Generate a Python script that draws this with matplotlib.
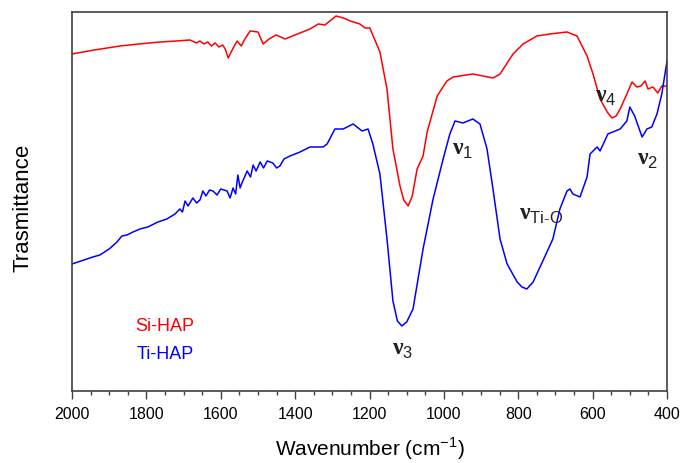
import numpy as np
import matplotlib
matplotlib.use("Agg")
import matplotlib.pyplot as plt
from matplotlib.ticker import MultipleLocator

plt.rcParams['font.family'] = ['Liberation Sans', 'DejaVu Sans']
plt.rcParams['mathtext.fontset'] = 'custom'
plt.rcParams['mathtext.rm'] = 'Liberation Serif'
plt.rcParams['mathtext.sf'] = 'Liberation Sans'
plt.rcParams['mathtext.bf'] = 'Liberation Serif:bold'

# Si-HAP spectrum (wavenumber, transmittance in arbitrary units)
si_wn = [2000, 1940, 1871, 1820, 1763, 1720, 1683, 1665, 1656, 1645, 1635, 1625,
         1615, 1605, 1595, 1588, 1580, 1568, 1556, 1545, 1535, 1521, 1500, 1486,
         1470, 1451, 1427, 1387, 1360, 1338, 1320, 1290, 1270, 1252, 1226, 1212,
         1199, 1172, 1153, 1137, 1118, 1108, 1096, 1085, 1072, 1056, 1045, 1018,
         992, 975, 922, 868, 849, 814, 787, 750, 715, 669, 642, 615, 599, 580,
         561, 548, 537, 526, 508, 494, 481, 470, 459, 451, 438, 425, 414, 400]
si_t = [337, 341, 345, 347, 349, 350, 351, 348, 350, 347, 349, 345,
        348, 344, 346, 342, 333, 342, 350, 345, 352, 360, 359, 347,
        352, 356, 352, 358, 362, 367, 366, 375, 373, 370, 367, 363,
        363, 339, 302, 242, 205, 191, 185, 195, 222, 235, 259, 295,
        310, 314, 317, 313, 317, 337, 347, 355, 357, 359, 355, 335, 317, 292,
        279, 273, 275, 282, 297, 309, 304, 305, 310, 302, 304, 298, 305, 305]

# Ti-HAP spectrum
ti_wn = [2000, 1944, 1925, 1900, 1879, 1866, 1852, 1836, 1817, 1796, 1769, 1745,
         1723, 1710, 1703, 1696, 1688, 1675, 1665, 1656, 1648, 1640, 1630, 1621,
         1610, 1600, 1583, 1575, 1567, 1560, 1554, 1548, 1543, 1536, 1529, 1520,
         1513, 1505, 1494, 1485, 1475, 1460, 1450, 1441, 1430, 1414, 1400, 1387,
         1360, 1325, 1314, 1293, 1271, 1244, 1220, 1204, 1191, 1172, 1153, 1137,
         1125, 1113, 1100, 1083, 1056, 1029, 1002, 984, 970, 949, 922, 903, 884,
         868, 849, 830, 803, 790, 777, 760, 734, 707, 688, 669, 661, 653, 634,
         615, 607, 588, 580, 559, 526, 508, 500, 487, 467, 454, 441, 427, 414, 400]
ti_t = [127, 134, 136, 142, 149, 155, 156, 159, 162, 164, 169, 172,
        177, 182, 179, 190, 185, 193, 188, 191, 200, 195, 201, 200,
        196, 202, 200, 193, 203, 197, 216, 203, 208, 214, 220, 214,
        226, 220, 229, 223, 230, 228, 223, 225, 232, 235, 237, 239,
        244, 244, 247, 262, 262, 267, 260, 262, 247, 217, 152, 90,
        70, 65, 69, 82, 142, 192, 232, 257, 270, 268, 272, 267, 242,
        202, 152, 127, 109, 104, 102, 109, 130, 152, 182, 200, 202, 197, 194,
        214, 237, 244, 240, 257, 262, 270, 284, 275, 254, 262, 264, 277, 297, 330]

fig = plt.figure(figsize=(6.8, 4.64), dpi=100)
ax = fig.add_axes([0.1059, 0.1552, 0.875, 0.8168])

ax.plot(si_wn, si_t, color='#ff0000', lw=1.1)
ax.plot(ti_wn, ti_t, color='#0000ff', lw=1.1)

ax.set_xlim(2000, 400)
ax.set_ylim(0, 379)
ax.xaxis.set_major_locator(MultipleLocator(200))
ax.xaxis.set_minor_locator(MultipleLocator(50))
ax.tick_params(axis='x', which='major', direction='out', length=6, width=1,
               color='#404040', labelsize=11.5, pad=5)
ax.tick_params(axis='x', which='minor', direction='out', length=3, width=1,
               color='#404040')
ax.set_yticks([])
for s in ax.spines.values():
    s.set_color('#404040')
    s.set_linewidth(1.2)

fig.text(370 / 680, 1 - 449 / 464, 'Wavenumber (cm$^{\\mathsf{-1}}$)',
         fontsize=15, ha='center', va='center')
fig.text(23 / 680, 1 - 208 / 464, 'Trasmittance', fontsize=16,
         rotation=90, ha='center', va='center')

# band labels
lab = dict(fontsize=17, ha='center', va='center', color='#222222')
ax.text(564, 295, r'$\mathbf{\nu}_{\mathsf{4}}$', **lab)
ax.text(451, 232, r'$\mathbf{\nu}_{\mathsf{2}}$', **lab)
ax.text(949, 242, r'$\mathbf{\nu}_{\mathsf{1}}$', **lab)
ax.text(739, 177, r'$\mathbf{\nu}_{\mathsf{Ti}\text{-}\mathsf{O}}$', **lab)
ax.text(1110, 42, r'$\mathbf{\nu}_{\mathsf{3}}$', **lab)

ax.text(1750, 65, 'Si-HAP', color='#ff0000', fontsize=13, ha='center', va='center')
ax.text(1750, 37, 'Ti-HAP', color='#0000ff', fontsize=13, ha='center', va='center')

fig.savefig('out.png', dpi=100)
